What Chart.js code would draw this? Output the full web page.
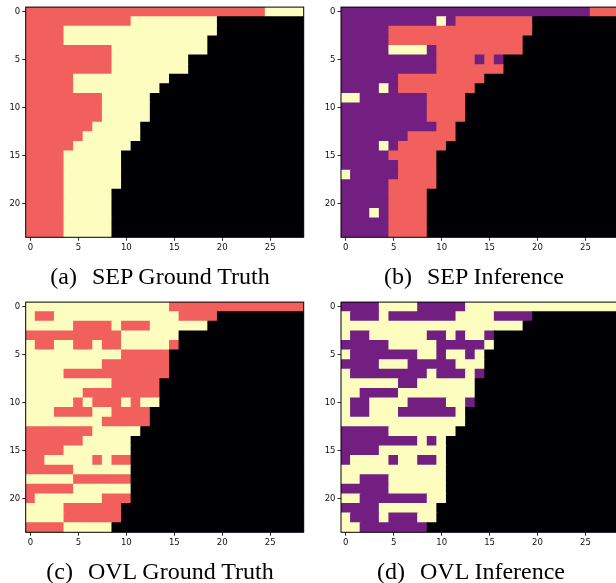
<!DOCTYPE html>
<html>
<head>
<meta charset="utf-8">
<script src="https://cdn.jsdelivr.net/npm/chart.js@4/dist/chart.umd.min.js"></script>
<style>
  html, body { margin:0; padding:0; background:#fff; width:616px; height:583px; overflow:hidden; }
  canvas { position:absolute; }
  .cap { position:absolute; width:320px; text-align:center; font-family:"Liberation Serif", serif; font-size:24px; line-height:24px; color:#000; white-space:nowrap; }
  .gap { display:inline-block; width:15px; }
</style>
</head>
<body>
<canvas id="pa" width="310" height="290" style="left:0px;top:0px"></canvas>
<canvas id="pb" width="310" height="290" style="left:315px;top:0px"></canvas>
<canvas id="pc" width="310" height="290" style="left:0px;top:295px"></canvas>
<canvas id="pd" width="310" height="290" style="left:315px;top:295px"></canvas>
<div class="cap" style="left:0px;top:264px">(a)<span class="gap"></span>SEP Ground Truth</div>
<div class="cap" style="left:314px;top:264px">(b)<span class="gap"></span>SEP Inference</div>
<div class="cap" style="left:0px;top:559px">(c)<span class="gap"></span>OVL Ground Truth</div>
<div class="cap" style="left:311px;top:559px">(d)<span class="gap"></span>OVL Inference</div>
<script>
// Cell classes: 0 = padding (black), 1 = purple, 2 = red, 3 = light yellow
// Each row string = columns 0-9, 10-19, 20-28
const sepTruth = [
  "2222222222"+"2222222222"+"222223333",
  "2222222222"+"2333333333"+"000000000",
  "2222333333"+"3333333333"+"000000000",
  "2222333333"+"3333333330"+"000000000",
  "2222222223"+"3333333330"+"000000000",
  "2222222223"+"3333333000"+"000000000",
  "2222222223"+"3333333000"+"000000000",
  "2222233333"+"3333300000"+"000000000",
  "2222233333"+"3333000000"+"000000000",
  "2222222233"+"3330000000"+"000000000",
  "2222222233"+"3330000000"+"000000000",
  "2222222233"+"3330000000"+"000000000",
  "2222222333"+"3300000000"+"000000000",
  "2222223333"+"3300000000"+"000000000",
  "2222233333"+"3000000000"+"000000000",
  "2222333333"+"0000000000"+"000000000",
  "2222333333"+"0000000000"+"000000000",
  "2222333333"+"0000000000"+"000000000",
  "2222333333"+"0000000000"+"000000000",
  "2222333330"+"0000000000"+"000000000",
  "2222333330"+"0000000000"+"000000000",
  "2222333330"+"0000000000"+"000000000",
  "2222333330"+"0000000000"+"000000000",
  "2222333330"+"0000000000"+"000000000"
];
const sepInference = [
  "1111111111"+"1111111111"+"111111222",
  "1111111111"+"3122222222"+"000000000",
  "1111122222"+"2222222222"+"000000000",
  "1111122222"+"2222222220"+"000000000",
  "1111133331"+"2222222220"+"000000000",
  "1111111111"+"2222121000"+"000000000",
  "1111111111"+"2222222000"+"000000000",
  "1111112222"+"2222200000"+"000000000",
  "1111312222"+"2222000000"+"000000000",
  "3311111112"+"2220000000"+"000000000",
  "1111111112"+"2220000000"+"000000000",
  "1111111112"+"2220000000"+"000000000",
  "1111111111"+"2200000000"+"000000000",
  "1111111222"+"2200000000"+"000000000",
  "1111312222"+"2000000000"+"000000000",
  "1111122222"+"0000000000"+"000000000",
  "1111112222"+"0000000000"+"000000000",
  "3111112222"+"0000000000"+"000000000",
  "1111122222"+"0000000000"+"000000000",
  "1111122220"+"0000000000"+"000000000",
  "1111122220"+"0000000000"+"000000000",
  "1113122220"+"0000000000"+"000000000",
  "1111122220"+"0000000000"+"000000000",
  "1111122220"+"0000000000"+"000000000"
];
const ovlTruth = [
  "3333333333"+"3333322222"+"222222222",
  "3223333333"+"3333332222"+"000000000",
  "3333322223"+"2223333330"+"000000000",
  "2222222222"+"3333330000"+"000000000",
  "3223322322"+"3333320000"+"000000000",
  "3333333333"+"2222200000"+"000000000",
  "3333333322"+"2222200000"+"000000000",
  "3333222222"+"2222200000"+"000000000",
  "3333333332"+"2222000000"+"000000000",
  "3333332222"+"2222000000"+"000000000",
  "3333323222"+"3233000000"+"000000000",
  "3332222332"+"2220000000"+"000000000",
  "3333333322"+"2220000000"+"000000000",
  "2222222333"+"3300000000"+"000000000",
  "2222223333"+"3000000000"+"000000000",
  "2222333333"+"3000000000"+"000000000",
  "2233333232"+"2000000000"+"000000000",
  "2222233333"+"3000000000"+"000000000",
  "3333322222"+"2000000000"+"000000000",
  "2222233333"+"3000000000"+"000000000",
  "2333333322"+"2000000000"+"000000000",
  "3333222222"+"0000000000"+"000000000",
  "3333222222"+"0000000000"+"000000000",
  "2222333330"+"0000000000"+"000000000"
];
const ovlInference = [
  "1111333311"+"1113333333"+"333333333",
  "3111311111"+"1133331111"+"000000000",
  "3333333333"+"3333333330"+"000000000",
  "3113333331"+"1313310000"+"000000000",
  "1111133333"+"1111130000"+"000000000",
  "3111111133"+"1331300000"+"000000000",
  "1111333111"+"1133300000"+"000000000",
  "3111111113"+"1113100000"+"000000000",
  "3333331133"+"3333000000"+"000000000",
  "3311113333"+"3333000000"+"000000000",
  "3113333111"+"1331000000"+"000000000",
  "3113331111"+"1130000000"+"000000000",
  "3333333333"+"3330000000"+"000000000",
  "1111133333"+"3300000000"+"000000000",
  "1111111131"+"3000000000"+"000000000",
  "1111333333"+"3000000000"+"000000000",
  "1333313311"+"3000000000"+"000000000",
  "3333333333"+"3000000000"+"000000000",
  "3311133333"+"3000000000"+"000000000",
  "1111133333"+"3000000000"+"000000000",
  "3311111113"+"3000000000"+"000000000",
  "1111333333"+"0000000000"+"000000000",
  "3111311133"+"0000000000"+"000000000",
  "3311111110"+"0000000000"+"000000000"
];
const xTickValues = [0, 5, 10, 15, 20, 25];
const yTickValues = [0, 5, 10, 15, 20];
const classColors = ['#000004', '#721f81', '#f1605d', '#fcfdbf'];

const NCOLS = 29, NROWS = 24;
[sepTruth, sepInference, ovlTruth, ovlInference].forEach((g, gi) => {
  if (g.length !== NROWS) throw new Error('grid ' + gi + ' rows ' + g.length);
  g.forEach((row, r) => { if (row.length !== NCOLS) throw new Error('grid ' + gi + ' row ' + r + ' len ' + row.length); });
});

function toBars(grid) {
  const pts = [], cols = [];
  grid.forEach((row, r) => {
    let s = 0;
    for (let c = 1; c <= row.length; c++) {
      if (c === row.length || row[c] !== row[s]) {
        pts.push({ x: [s - 0.5, c - 0.5], y: r });
        cols.push(classColors[+row[s]]);
        s = c;
      }
    }
  });
  return { pts, cols };
}

const frame = {
  id: 'frame',
  afterDatasetsDraw(chart) {
    const { ctx, chartArea: a } = chart;
    ctx.save();
    ctx.strokeStyle = '#000';
    ctx.lineWidth = 1;
    ctx.strokeRect(a.left, a.top, a.right - a.left, a.bottom - a.top);
    ctx.restore();
  }
};

const tickFont = { family: 'DejaVu Sans', size: 8.5 };

function makeChart(id, grid, leftW) {
  const { pts, cols } = toBars(grid);
  return new Chart(document.getElementById(id), {
    type: 'bar',
    data: { datasets: [{ data: pts, backgroundColor: cols, borderWidth: 0, categoryPercentage: 1, barPercentage: 1, inflateAmount: 0.5 }] },
    options: {
      indexAxis: 'y',
      responsive: false,
      animation: false,
      layout: { padding: { top: 6.7, right: 310 - leftW - 278, left: 0, bottom: 0 } },
      plugins: { legend: { display: false }, tooltip: { enabled: false } },
      scales: {
        x: {
          type: 'linear', min: -0.5, max: NCOLS - 0.5, offset: false,
          afterBuildTicks: s => { s.ticks = xTickValues.map(v => ({ value: v })); },
          ticks: { font: tickFont, color: '#111', padding: 2, maxRotation: 0, autoSkip: false, callback: v => String(v) },
          grid: { offset: false, drawOnChartArea: false, tickLength: 3.5, tickColor: '#000', tickWidth: 0.8 },
          border: { display: false },
          afterFit: s => { s.height = 290 - 237.3; }
        },
        y: {
          type: 'linear', reverse: true, min: -0.5, max: NROWS - 0.5, offset: false,
          afterBuildTicks: s => { s.ticks = yTickValues.map(v => ({ value: v })); },
          ticks: { font: tickFont, color: '#111', padding: 2, autoSkip: false, callback: v => String(v) },
          grid: { offset: false, drawOnChartArea: false, tickLength: 3.5, tickColor: '#000', tickWidth: 0.8 },
          border: { display: false },
          afterFit: s => { s.width = leftW; }
        }
      }
    },
    plugins: [frame]
  });
}

makeChart('pa', sepTruth, 25.7);
makeChart('pb', sepInference, 26);
makeChart('pc', ovlTruth, 25.7);
makeChart('pd', ovlInference, 26);
</script>
</body>
</html>
